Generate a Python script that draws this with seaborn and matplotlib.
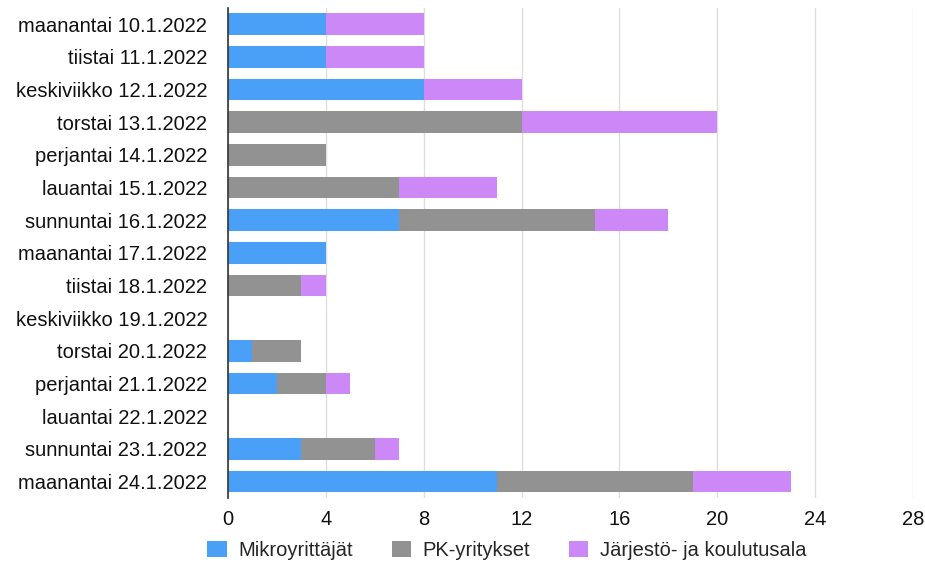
import matplotlib
matplotlib.use("Agg")
import matplotlib.pyplot as plt
from matplotlib.patches import Patch
import numpy as np
import pandas as pd
import seaborn as sns

days = [
    "maanantai 10.1.2022", "tiistai 11.1.2022", "keskiviikko 12.1.2022",
    "torstai 13.1.2022", "perjantai 14.1.2022", "lauantai 15.1.2022",
    "sunnuntai 16.1.2022", "maanantai 17.1.2022", "tiistai 18.1.2022",
    "keskiviikko 19.1.2022", "torstai 20.1.2022", "perjantai 21.1.2022",
    "lauantai 22.1.2022", "sunnuntai 23.1.2022", "maanantai 24.1.2022",
]
mikro = [4, 4, 8, 0, 0, 0, 7, 4, 0, 0, 1, 2, 0, 3, 11]
pk = [0, 0, 0, 12, 4, 7, 8, 0, 3, 0, 2, 2, 0, 3, 8]
jarjesto = [4, 4, 4, 8, 0, 4, 3, 0, 1, 0, 0, 1, 0, 1, 4]

series = ["Mikroyrittäjät", "PK-yritykset", "Järjestö- ja koulutusala"]
colors = ["#4aa0f6", "#929292", "#cc88f6"]
x_ticks = [0, 4, 8, 12, 16, 20, 24, 28]

sns.set_theme(style="white")
plt.rcParams["font.family"] = ["Liberation Sans", "DejaVu Sans"]

df = pd.DataFrame({"day": days, "mikro": mikro, "pk": pk, "jarjesto": jarjesto})
df["s1"] = df["mikro"]
df["s2"] = df["mikro"] + df["pk"]
df["s3"] = df["s2"] + df["jarjesto"]

fig = plt.figure(figsize=(9.25, 5.63), dpi=100)
ax = fig.add_axes([0.2465, 0.1155, 0.7405, 0.8705])

# stacked bars: draw cumulative totals back to front
for col, color in zip(["s3", "s2", "s1"], colors[::-1]):
    sns.barplot(data=df, x=col, y="day", order=days, color=color,
                width=0.66, saturation=1, ax=ax, zorder=3,
                edgecolor="none", linewidth=0)

ax.set_xlim(0, 28)
ax.set_ylim(14.5, -0.5)
ax.set_xticks(x_ticks)
ax.set_xticklabels([str(t) for t in x_ticks])
ax.set_xlabel("")
ax.set_ylabel("")
ax.xaxis.grid(True, color="#dedede", linewidth=1, zorder=0)
ax.yaxis.grid(False)
ax.set_axisbelow(True)

for s in ["top", "right", "bottom"]:
    ax.spines[s].set_visible(False)
ax.spines["left"].set_color("#333333")
ax.spines["left"].set_linewidth(1.2)
ax.spines["left"].set_zorder(5)

ax.tick_params(axis="both", length=0, labelsize=14.5, colors="#111111")
ax.tick_params(axis="x", pad=9)
ax.tick_params(axis="y", pad=15)

handles = [Patch(facecolor=c, edgecolor="none", label=l) for c, l in zip(colors, series)]
fig.legend(handles=handles, loc="center", bbox_to_anchor=(0.548, 0.022),
           ncol=3, frameon=False, fontsize=14.5, handlelength=0.95,
           handleheight=0.85, handletextpad=0.6, columnspacing=1.9,
           borderpad=0, borderaxespad=0)

fig.savefig("out.png", dpi=100)
